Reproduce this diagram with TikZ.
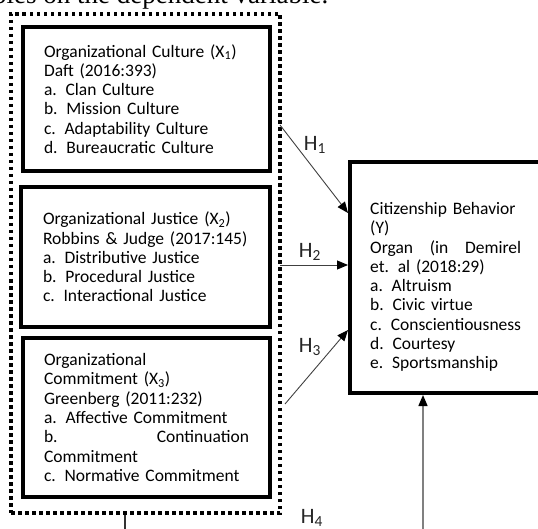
\documentclass[tikz,border=0pt]{standalone}
\usepackage{fontspec}
\setmainfont{Carlito}
\newfontfamily\docserif{Liberation Serif}
\usetikzlibrary{arrows.meta}
\begin{document}
\begin{tikzpicture}[x=1pt,y=-1pt,
  boxtext/.style={font=\fontsize{17.5}{19.3}\selectfont},
  varbox/.style={draw=black, line width=3.5pt, boxtext, align=left, text width=205pt, inner ysep=0pt},
  groupbox/.style={draw=black, line width=3.5pt, dash pattern=on 3.5pt off 3.5pt, inner sep=0pt},
  conn/.style={draw=black!75, line width=0.9pt, -{Triangle[length=11pt,width=9pt,color=black]}},
  hlabel/.style={font=\fontsize{22}{22}\selectfont, inner sep=0pt, text=black!85},
  hfour/.style={line width=1.4pt}
]
\useasboundingbox (0,0) rectangle (538,529);
\clip (0,0) rectangle (538,529);

% cut-off line of document text at the top
\node[anchor=base west, inner sep=0pt, font=\docserif\fontsize{27}{27}\selectfont] (toptext) at (-19,4) {ables on the dependent variable.};

% group of independent variables
\node[groupbox, minimum width=269pt, minimum height=499pt] (grp) at (145.5,263.5) {};

% independent variables
\node[varbox, minimum width=247pt, minimum height=144pt] (x1) at (146.5,99) {Organizational Culture (X\textsubscript{1})\\
Daft (2016:393)\\
a. Clan Culture\\
b. Mission Culture\\
c. Adaptability Culture\\
d. Bureaucratic Culture};

\node[varbox, minimum width=249pt, minimum height=140pt] (x2) at (145.5,257) {Organizational Justice (X\textsubscript{2})\\
Robbins \& Judge (2017:145)\\
a. Distributive Justice\\
b. Procedural Justice\\
c. Interactional Justice};

\node[varbox, minimum width=247pt, minimum height=159pt] (x3) at (146.5,417.5) {Organizational\\
Commitment (X\textsubscript{3})\\
Greenberg (2011:232)\\
a. Affective Commitment\\
b.\hfill Continuation\\
Commitment\\
c. Normative Commitment};

% dependent variable
\node[draw=black, line width=3.5pt, minimum width=190pt, minimum height=231pt] (y) at (445,277.5) {};
\node[boxtext, anchor=west, align=left, text width=151pt, inner sep=0pt] (ytext) at (370,287) {Citizenship Behavior\\
(Y)\\
Organ\hfill(in\hfill Demirel\\
et. al (2018:29)\\
a. Altruism\\
b. Civic virtue\\
c. Conscientiousness\\
d. Courtesy\\
e. Sportsmanship};

% connector end points
\coordinate (h1s) at (280,125);
\coordinate (h1e) at (348,213);
\coordinate (h2s) at (280,265);
\coordinate (h2e) at (348,265);
\coordinate (h3s) at (285,404);
\coordinate (h3e) at (348,330);
\coordinate (h4s) at (125,515);
\coordinate (h4a) at (125,560);
\coordinate (h4b) at (423,560);
\coordinate (h4e) at (423,395);

\draw[conn] (h1s) -- (h1e);
\draw[conn] (h2s) -- (h2e);
\draw[conn] (h3s) -- (h3e);
\draw[hfour, draw=black!80] (h4s) -- (h4a);
\draw[hfour, draw=black!50, -{Triangle[length=11pt,width=9pt,color=black]}] (h4a) -- (h4b) -- (h4e);

% hypothesis labels
\node[hlabel] (lh1) at (315,145) {H\textsubscript{1}};
\node[hlabel] (lh2) at (310,252) {H\textsubscript{2}};
\node[hlabel] (lh3) at (310,347) {H\textsubscript{3}};
\node[hlabel] (lh4) at (312,518) {H\textsubscript{4}};
\end{tikzpicture}
\end{document}
